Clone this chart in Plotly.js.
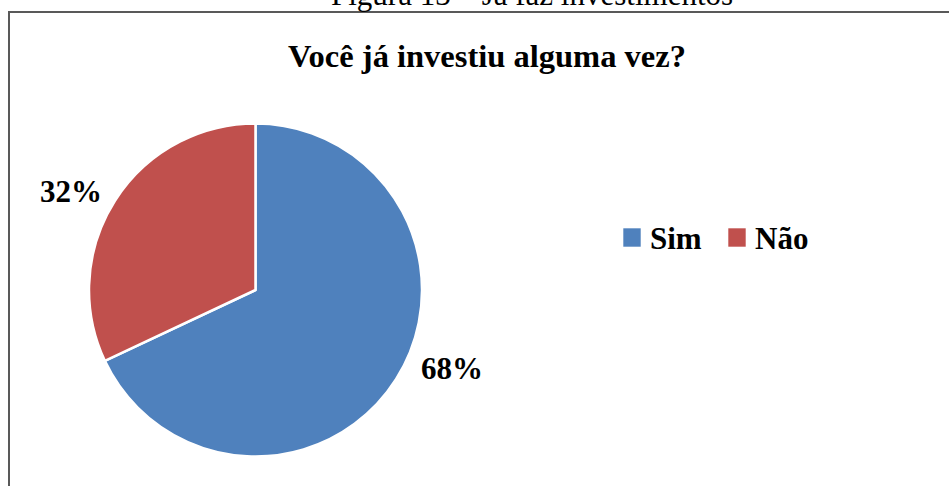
<!DOCTYPE html>
<html>
<head>
<meta charset="utf-8">
<script src="https://cdn.plot.ly/plotly-3.0.1.min.js"></script>
<style>html,body{margin:0;padding:0;background:#fff;}#chart{width:949px;height:486px;}</style>
</head>
<body>
<div id="chart"></div>
<script>
const labels = ["Sim", "Não"];
const values = [68, 32];
const colors = ["#4F81BD", "#C0504D"];
const pctLabels = ["68%", "32%"];
const chartTitle = "Você já investiu alguma vez?";
const caption = "Figura 13 – Já faz investimentos";

const W = 949, H = 486;
const px = x => x / W;
const py = y => 1 - y / H;
const serif = "Liberation Serif, Times New Roman, serif";

const labelPos = [[452, 368], [71, 191]];
const legendX = [623, 728];

const annotations = [];
const shapes = [];

// border
shapes.push({type: "rect", xref: "paper", yref: "paper", x0: px(9), x1: 1.02, y0: -0.02, y1: py(12),
  line: {color: "#595959", width: 2}, fillcolor: "rgba(0,0,0,0)", layer: "below"});

// caption partially cut off at top (as in the reference)
annotations.push({text: caption, xref: "paper", yref: "paper", x: px(532), y: py(14), xanchor: "center", yanchor: "bottom",
  showarrow: false, font: {family: serif, size: 31, color: "#000"}});

labels.forEach((lab, i) => {
  annotations.push({text: "<b>" + pctLabels[i] + "</b>", xref: "paper", yref: "paper",
    x: px(labelPos[i][0]), y: py(labelPos[i][1]), xanchor: "center", yanchor: "middle",
    showarrow: false, font: {family: serif, size: 31, color: "#000"}});
  shapes.push({type: "rect", xref: "paper", yref: "paper", x0: px(legendX[i]), x1: px(legendX[i] + 18),
    y0: py(247), y1: py(228), fillcolor: colors[i], line: {color: "rgba(255,255,255,0.6)", width: 1}});
  annotations.push({text: "<b>" + lab + "</b>", xref: "paper", yref: "paper",
    x: px(legendX[i] + 25), y: py(238), xanchor: "left", yanchor: "middle",
    showarrow: false, font: {family: serif, size: 31, color: "#000"}});
});

const data = [{
  type: "pie",
  labels: labels,
  values: values,
  sort: false,
  direction: "clockwise",
  rotation: 0,
  marker: {colors: colors, line: {color: "#ffffff", width: 2.5}},
  textinfo: "none",
  hoverinfo: "label+percent",
  showlegend: false,
  domain: {x: [px(89), px(422)], y: [py(457), py(123)]}
}];

const layout = {
  width: W, height: H,
  margin: {l: 0, r: 0, t: 0, b: 0},
  paper_bgcolor: "#fff",
  plot_bgcolor: "#fff",
  showlegend: false,
  title: {text: "<b>" + chartTitle + "</b>", x: px(487), y: py(56), xref: "paper", yref: "paper",
    xanchor: "center", yanchor: "middle", font: {family: serif, size: 32.5, color: "#000"}},
  annotations: annotations,
  shapes: shapes
};

Plotly.newPlot("chart", data, layout, {displayModeBar: false, staticPlot: true});
</script>
</body>
</html>
